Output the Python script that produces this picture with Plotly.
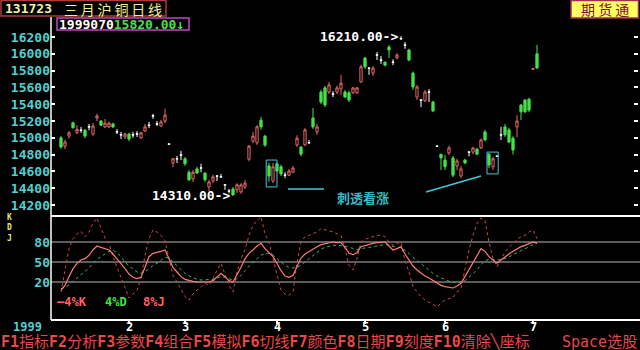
import plotly.graph_objects as go

# ---------------- data ----------------
open_ = [15000,14900,15020,15180,15060,15090,15090,15130,15045,15235,
         15200,15130,15130,15165,15070,15035,15010,15045,15035,15045,
         15000,15080,15150,15260,15165,15140,15200,14925,14700,14750,
         14795,14750,14590,14510,14630,14640,14580,14415,14485,14545,
         14535,14440,14365,14390,14380,14355,14415,14745,14960,14940,
         15210,15020,14665,14485,14690,14655,14555,14555,14590,14915,
         14890,14915,14940,15235,15070,15545,15595,15545,15520,15545,
         15580,15545,15535,15535,15535,15665,15950,15830,15770,15985,
         15925,15900,16080,15900,15950,16180,16105,16045,15770,15485,
         15450,15440,15545,15425,14900,14805,14735,14820,14760,14665,
         14545,14735,14830,14830,14865,14880,15070,14805,14655,14780,
         15035,15130,15095,14995,15130,15390,15450,15460,15815,16000]
high = [15020,14975,15080,15190,15150,15130,15105,15165,15175,15285,
        15210,15225,15190,15180,15105,15070,15060,15060,15070,15080,
        15070,15165,15190,15285,15200,15215,15345,14930,14760,14785,
        14845,14770,14615,14615,14655,14690,14590,14500,14560,14550,
        14570,14445,14390,14415,14460,14460,14500,14915,15070,15150,
        15250,15035,14700,14700,14700,14680,14590,14630,14665,15030,
        14900,15115,14975,15355,15165,15570,15620,15665,15555,15620,
        15750,15570,15560,15605,15605,15870,15960,15830,15855,16020,
        15975,15910,16105,15935,16010,16210,16140,16060,15790,15630,
        15450,15570,15580,15440,14905,14805,14795,14905,14785,14750,
        14665,14750,14830,14890,14880,14990,15095,14820,14775,14790,
        15130,15165,15120,15020,15270,15400,15460,15475,15825,16105]
low = [14870,14865,14990,15110,15045,15060,14995,15090,15020,15200,
       15140,15115,15115,15115,15045,14985,14985,14960,15000,15010,
       14985,15070,15115,15225,15140,15130,15175,14920,14650,14700,
       14735,14665,14485,14475,14570,14590,14475,14365,14460,14485,
       14530,14380,14340,14310,14345,14335,14390,14720,14935,14915,
       15095,14890,14475,14460,14595,14545,14520,14545,14580,14890,
       14780,14900,14940,15105,15035,15400,15365,15520,15485,15520,
       15510,15475,15425,15520,15520,15655,15820,15750,15735,15926,
       15880,15850,15950,15865,15935,16165,16060,15910,15570,15450,
       15365,15425,15425,15305,14895,14615,14615,14795,14530,14615,
       14520,14690,14780,14805,14795,14865,14960,14640,14615,14770,
       14974,15010,14935,14800,15005,15210,15295,15305,15815,15820]
close = [14890,14950,15060,15120,15100,15090,15020,15130,15140,15260,
         15150,15175,15175,15130,15070,15035,15045,14985,15035,15045,
         15060,15130,15150,15260,15165,15190,15270,14925,14750,14750,
         14795,14690,14500,14590,14580,14640,14500,14475,14535,14545,
         14535,14440,14365,14320,14440,14440,14460,14900,15020,15130,
         15130,14915,14545,14655,14605,14570,14555,14605,14640,14995,
         14805,15095,14940,15130,15130,15425,15390,15630,15520,15595,
         15650,15485,15450,15595,15595,15845,15845,15830,15830,15985,
         15925,15865,16045,15900,15985,16180,16105,15925,15605,15605,
         15450,15545,15545,15320,14900,14760,14655,14880,14555,14725,
         14630,14700,14830,14880,14805,14975,14975,14675,14750,14780,
         15035,15035,14950,14855,15200,15310,15310,15330,15825,15830]

K = [8,15,28,40,48,53,55,60,68,74,72,70,68,62,55,48,40,32,27,25,
     27,42,58,63,64,66,68,55,42,35,28,24,22,21,20,20,21,20,22,28,
     33,28,22,20,30,42,55,63,68,74,78,70,64,58,48,37,29,27,30,44,
     56,62,66,70,73,76,77,79,80,79,79,72,63,61,64,73,75,76,78,79,
     79,80,74,68,70,73,62,52,44,38,33,29,26,22,18,15,13,12,11,14,
     18,28,38,48,60,70,66,58,53,48,53,58,62,66,70,73,75,78,80,78]
D = [10,12,16,21,26,31,36,41,48,54,58,62,66,68,64,58,50,44,39,35,
     33,35,40,45,48,53,57,56,50,44,38,33,29,26,24,23,23,23,24,26,
     28,27,25,23,25,30,37,44,50,55,60,63,63,60,55,50,45,42,41,42,
     45,50,55,60,65,69,72,74,75,75,75,74,72,70,69,70,71,72,73,74,
     75,76,75,73,72,72,68,63,57,52,47,43,38,33,29,26,23,21,20,19,
     20,22,27,32,38,46,52,54,54,53,53,55,58,61,65,68,70,73,76,78]
J = [5,40,70,85,92,96,88,95,108,116,100,86,78,58,42,28,12,-4,2,8,
     25,60,85,98,95,90,82,55,30,20,8,-2,-7,2,8,12,18,15,25,38,
     48,30,15,5,35,55,68,90,105,112,118,92,80,55,30,8,2,0,5,50,
     80,88,90,93,95,100,99,97,95,92,90,70,45,38,55,80,84,86,88,90,
     90,88,80,75,78,80,52,35,13,5,-2,-7,-10,-14,-17,-12,-7,-5,-3,5,
     10,40,68,90,108,116,112,80,55,43,55,65,72,78,84,88,90,95,98,85]

price_ticks = [14200,14400,14600,14800,15000,15200,15400,15600,15800,16000,16200]
kdj_ticks = [20, 50, 80]
month_pos = [17, 31, 54, 76, 96, 118]
month_labels = ["2", "3", "4", "5", "6", "7"]
year_label = "1999"
title_code = "131723"
title_name = "三月沪铜日线"
info_date = "1999070"
info_price = "15820.00↓"
brand = "期 货 通"
pattern_label = "刺透看涨"
pattern_boxes = [(51.3, 54.0, 14415, 14735), (106.5, 109.3, 14570, 14830)]
support_lines = [((56.75, 14390), (65.75, 14390)), ((91.25, 14355), (105, 14545))]
menu = [("F1", "指标"), ("F2", "分析"), ("F3", "参数"), ("F4", "组合"), ("F5", "模拟"),
        ("F6", "切线"), ("F7", "颜色"), ("F8", "日期"), ("F9", "刻度"), ("F10", "清除╲座标")]
menu_right = "Space选股"

# ---------------- geometry ----------------
W, H = 640, 350
ML, MR, MT, MB = 51, 2, 17, 30
PW, PH = W - ML - MR, H - MT - MB
SPLIT = 216
def px(x): return (x - ML) / PW
def py(y): return (H - MB - y) / PH
split_dom = py(SPLIT)

CYAN = "#50d0d0"
RED = "#e86868"
GREEN = "#48e048"
MONO = "DejaVu Sans Mono"
CJK = "Noto Sans CJK SC"

idx = list(range(len(close)))
up = [i for i in idx if close[i] > open_[i]]
dn = [i for i in idx if close[i] < open_[i]]
dj = [i for i in idx if close[i] == open_[i]]

def candles(sel, line, fill):
    st = dict(line=dict(color=line, width=1), fillcolor=fill)
    return go.Candlestick(x=sel, open=[open_[i] for i in sel], high=[high[i] for i in sel],
                          low=[low[i] for i in sel], close=[close[i] for i in sel],
                          increasing=st, decreasing=st, whiskerwidth=0,
                          hoverinfo="skip", showlegend=False, xaxis="x", yaxis="y")

fig = go.Figure()
fig.add_trace(candles(up, RED, "black"))
fig.add_trace(candles(dn, GREEN, GREEN))
fig.add_trace(candles(dj, "white", "white"))

fig.add_trace(go.Scatter(x=idx, y=J, mode="lines", line=dict(color="#d04848", width=1, dash="dot"),
                         yaxis="y2", hoverinfo="skip", showlegend=False))
fig.add_trace(go.Scatter(x=idx, y=D, mode="lines", line=dict(color="#40b070", width=1, dash="dot"),
                         yaxis="y2", hoverinfo="skip", showlegend=False))
fig.add_trace(go.Scatter(x=idx, y=K, mode="lines", line=dict(color="#ff7878", width=1.2),
                         yaxis="y2", hoverinfo="skip", showlegend=False))

shapes = []
# frame lines
shapes.append(dict(type="line", xref="paper", yref="paper", x0=0, x1=0, y0=0, y1=1,
                   line=dict(color="white", width=1.5)))
shapes.append(dict(type="line", xref="paper", yref="paper", x0=0, x1=px(640), y0=split_dom, y1=split_dom,
                   line=dict(color="white", width=2)))
shapes.append(dict(type="line", xref="paper", yref="paper", x0=0, x1=px(640), y0=0, y1=0,
                   line=dict(color="white", width=2)))
for v in kdj_ticks:
    shapes.append(dict(type="line", xref="paper", yref="y2", x0=0, x1=px(640), y0=v, y1=v,
                       line=dict(color="#b8b8b8", width=1), layer="below"))
for x0, x1, y0, y1 in pattern_boxes:
    shapes.append(dict(type="rect", xref="x", yref="y", x0=x0, x1=x1, y0=y0, y1=y1,
                       line=dict(color="#40c8d8", width=1)))
for (a, b) in support_lines:
    shapes.append(dict(type="line", xref="x", yref="y", x0=a[0], y0=a[1], x1=b[0], y1=b[1],
                       line=dict(color="#40c8d8", width=1.5)))
# header boxes
shapes.append(dict(type="rect", xref="paper", yref="paper", x0=px(1), x1=px(166), y0=py(16), y1=py(0.5),
                   line=dict(color="#b03a3a", width=1.5), fillcolor="black"))
shapes.append(dict(type="rect", xref="paper", yref="paper", x0=px(57), x1=px(189), y0=py(30), y1=py(18),
                   line=dict(color="#c048c0", width=1.5), fillcolor="black"))
shapes.append(dict(type="rect", xref="paper", yref="paper", x0=px(571), x1=px(638.5), y0=py(18), y1=py(0.5),
                   line=dict(color="#a03050", width=1.5), fillcolor="#ffff60"))

ann = []
def A(text, x, y, color, size, family=MONO, xanchor="left", xref="paper", yref="paper", bold=True):
    ann.append(dict(text=text, x=x, y=y, xref=xref, yref=yref, xanchor=xanchor, yanchor="middle",
                    showarrow=False, borderpad=0,
                    font=dict(color=color, size=size, family=family,
                              weight="bold" if bold else "normal")))

A(title_code, px(4), py(8.5), "#f0f0a8", 13)
A("\u2009".join(title_name), px(63), py(9.3), "#f0f090", 14, family=CJK, bold=False)
A(f'<span style="color:#ffffff">{info_date}</span><span style="color:#48e048">{info_price}</span>',
  px(58), py(24.8), "white", 13)
A(brand, px(604.5), py(9.5), "#801030", 14, family=CJK, xanchor="center", bold=False)

imax = max(idx, key=lambda i: high[i])
imin = min(idx, key=lambda i: low[i])
A(f"{high[imax]:.2f}->", imax - 0.4, high[imax], "white", 13, xanchor="right", xref="x", yref="y")
A(f"{low[imin]:.2f}->", imin - 0.4, low[imin], "white", 13, xanchor="right", xref="x", yref="y")
A(pattern_label, 75.5, 14295, "#38b8c8", 13, family=CJK, xanchor="center", xref="x", yref="y")

A("K<br>D<br>J", px(5.5), py(228), "#e8e870", 8)
A("—4%K", px(56), py(302), "#ff6060", 12)
A("4%D", px(104), py(302), "#40e040", 12)
A("8%J", px(142), py(302), "#ff6060", 12)
A(year_label, px(12), py(326.5), CYAN, 12)
for pos, lab in zip(month_pos, month_labels):
    A(lab, pos, py(326.5), "white", 12, xanchor="center", xref="x")
menu_text = "".join(f"<b>{k}</b>{v}" for k, v in menu)
A(menu_text, px(0), py(341.5), "#e84848", 15, family=f"{MONO}, {CJK}", bold=False)
A(menu_right, px(638), py(341.5), "#e84848", 15, family=f"{MONO}, {CJK}", xanchor="right", bold=False)

fig.update_layout(
    width=W, height=H, paper_bgcolor="black", plot_bgcolor="black",
    margin=dict(l=ML, r=MR, t=MT, b=MB), showlegend=False, boxgap=0.2,
    xaxis=dict(range=[-2.5, -2.5 + PW / 4], anchor="y2", tickvals=month_pos, ticktext=month_labels,
               showticklabels=False, ticks="outside", ticklen=3, tickcolor="white", tickwidth=1.5,
               showgrid=False, zeroline=False, showline=False, rangeslider=dict(visible=False),
               fixedrange=True),
    yaxis=dict(domain=[split_dom, 1], range=[16200 - (216 - 37) * 11.905, 16200 - (17 - 37) * 11.905],
               tickvals=price_ticks, tickformat="d", ticks="inside", ticklen=4, tickcolor="white", tickwidth=1.5,
               mirror="ticks", showline=False, showgrid=False, zeroline=False,
               tickfont=dict(color=CYAN, size=13, family=MONO, weight="bold"), fixedrange=True),
    yaxis2=dict(domain=[0, split_dom], range=[-37, 119], tickvals=kdj_ticks, ticks="",
                showgrid=False, zeroline=False, showline=False,
                tickfont=dict(color=CYAN, size=13, family=MONO, weight="bold"), fixedrange=True),
    shapes=shapes, annotations=ann,
)

fig.write_html("out.html", config={"displayModeBar": False})
